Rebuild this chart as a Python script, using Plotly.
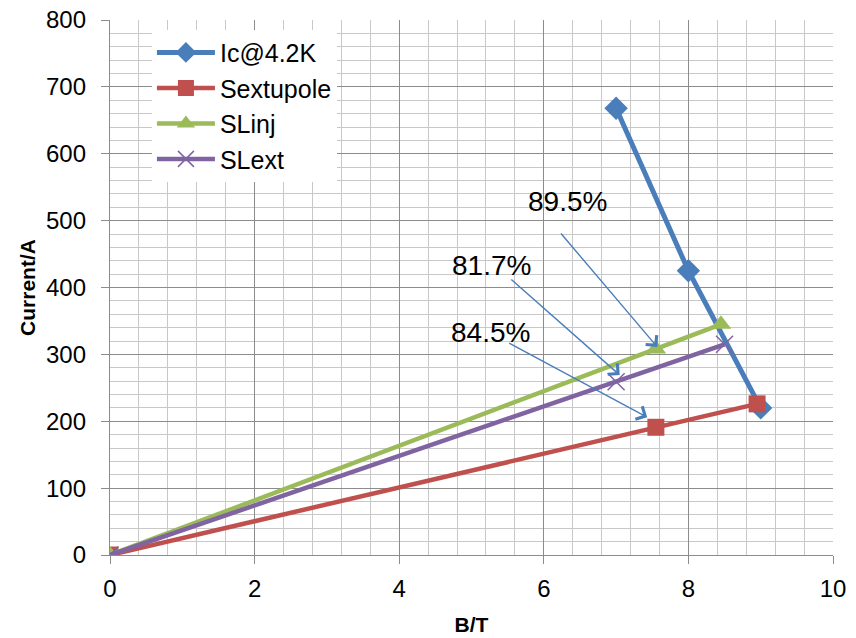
import plotly.graph_objects as go

# ---- data ----
ic_x = [7.0, 8.0, 9.0]
ic_y = [668, 425, 220]
sext_x = [0, 7.55, 8.95]
sext_y = [0, 191, 226]
slinj_x = [0, 7.55, 8.45]
slinj_y = [0, 308, 345]
slext_x = [0, 7.0, 8.5]
slext_y = [0, 259, 315]

labels = ["89.5%", "81.7%", "84.5%"]
label_x = [6.33, 5.28, 5.26]
label_y = [528, 433, 333]
arrow_tail_x = [6.22, 5.53, 5.50]
arrow_tail_y = [483, 414, 318]
arrow_tip_x = [7.57, 7.05, 7.43]
arrow_tip_y = [311, 269, 206]

x_ticks = [0, 2, 4, 6, 8, 10]
y_ticks = [0, 100, 200, 300, 400, 500, 600, 700, 800]

BLUE = "#4A7EBB"
RED = "#C0504D"
GREEN = "#9BBB59"
PURPLE = "#8064A2"
FONT = "Arial, Liberation Sans, sans-serif"

fig = go.Figure()
fig.add_trace(go.Scatter(x=ic_x, y=ic_y, name="Ic@4.2K", mode="lines+markers",
                         line=dict(color=BLUE, width=5),
                         marker=dict(symbol="diamond", size=18, color=BLUE)))
fig.add_trace(go.Scatter(x=sext_x, y=sext_y, name="Sextupole", mode="lines+markers",
                         line=dict(color=RED, width=4.5),
                         marker=dict(symbol="square", size=17, color=RED)))
fig.add_trace(go.Scatter(x=slinj_x, y=slinj_y, name="SLinj", mode="lines+markers",
                         line=dict(color=GREEN, width=4.5),
                         marker=dict(symbol="triangle-up", size=18, color=GREEN)))
fig.add_trace(go.Scatter(x=slext_x, y=slext_y, name="SLext", mode="lines+markers",
                         line=dict(color=PURPLE, width=4.5),
                         marker=dict(symbol="x-thin", size=17, color=PURPLE,
                                     line=dict(color=PURPLE, width=1.5))))

for t, tx, ty, ax_, ay_, px, py in zip(labels, label_x, label_y, arrow_tail_x,
                                       arrow_tail_y, arrow_tip_x, arrow_tip_y):
    fig.add_annotation(x=px, y=py, ax=ax_, ay=ay_, xref="x", yref="y",
                       axref="x", ayref="y", text="", showarrow=True,
                       arrowhead=4, arrowsize=2.0, arrowwidth=1.4,
                       arrowcolor=BLUE)
    fig.add_annotation(x=tx, y=ty, xref="x", yref="y", text=t, showarrow=False,
                       font=dict(family=FONT, size=28, color="black"))

fig.update_layout(
    width=856, height=638,
    margin=dict(l=110, r=23, t=20, b=83),
    paper_bgcolor="white", plot_bgcolor="white",
    font=dict(family=FONT, color="black"),
    showlegend=True,
    legend=dict(x=0.058, y=0.982, xanchor="left", yanchor="top",
                bgcolor="white", borderwidth=0,
                font=dict(family=FONT, size=25, color="black"),
                itemwidth=58, tracegroupgap=0),
)
fig.update_xaxes(range=[0, 10], tickvals=x_ticks, ticktext=[str(v) for v in x_ticks],
                 automargin=False,
                 showgrid=True, gridcolor="#8C8C8C", gridwidth=1.3,
                 minor=dict(dtick=0.4, showgrid=True, gridcolor="#C8C8C8", gridwidth=1.3),
                 showline=True, linecolor="#8C8C8C", linewidth=1.3,
                 ticks="outside", ticklen=8, tickcolor="#8C8C8C",
                 zeroline=False, mirror=False, ticklabelstandoff=4,
                 tickfont=dict(family=FONT, size=24, color="black"),
                 title=dict(text="<b>B/T</b>", font=dict(family=FONT, size=21, color="black"),
                            standoff=16))
fig.update_yaxes(range=[0, 800], tickvals=y_ticks, ticktext=[str(v) for v in y_ticks],
                 automargin=False,
                 showgrid=True, gridcolor="#8C8C8C", gridwidth=1.3,
                 minor=dict(dtick=20, showgrid=True, gridcolor="#C8C8C8", gridwidth=1.3),
                 showline=True, linecolor="#8C8C8C", linewidth=1.3,
                 ticks="outside", ticklen=8, tickcolor="#8C8C8C",
                 zeroline=False, ticklabelstandoff=10,
                 tickfont=dict(family=FONT, size=24, color="black"),
                 title=dict(text="<b>Current/A</b>", font=dict(family=FONT, size=21, color="black"),
                            standoff=4))

fig.write_html("out.html")
